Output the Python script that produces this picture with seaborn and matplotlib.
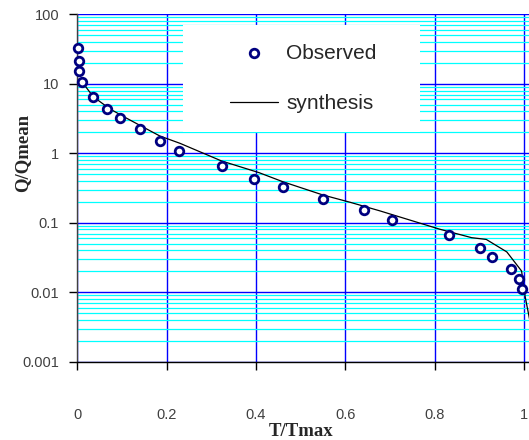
import matplotlib
matplotlib.use("Agg")
import matplotlib.pyplot as plt
import seaborn as sns
import pandas as pd
from matplotlib.ticker import LogLocator, FixedLocator, FixedFormatter, NullFormatter
from matplotlib.patches import Rectangle

# --- data ---
obs_t = [0.002, 0.003, 0.0045, 0.011, 0.0345, 0.0665, 0.095, 0.140, 0.185, 0.227,
         0.323, 0.396, 0.460, 0.550, 0.641, 0.704, 0.832, 0.901, 0.929, 0.971,
         0.989, 0.997]
obs_q = [33.1, 21.5, 15.1, 10.7, 6.4, 4.34, 3.25, 2.21, 1.52, 1.08,
         0.656, 0.431, 0.324, 0.218, 0.153, 0.110, 0.066, 0.0434, 0.0325, 0.0216,
         0.0154, 0.0110]

syn_t = [0.0076, 0.0358, 0.0732, 0.1106, 0.148, 0.185, 0.230, 0.323, 0.407, 0.460,
         0.550, 0.611, 0.678, 0.812, 0.883, 0.916, 0.962, 0.995, 1.003, 1.015]
syn_q = [11.3, 6.5, 4.34, 3.19, 2.37, 1.77, 1.39, 0.775, 0.526, 0.390,
         0.251, 0.197, 0.148, 0.0806, 0.0610, 0.0575, 0.038, 0.0202, 0.00865, 0.0035]

y_ticks = [0.001, 0.01, 0.1, 1, 10, 100]
y_labels = ["0.001", "0.01", "0.1", "1", "10", "100"]
x_ticks = [0, 0.2, 0.4, 0.6, 0.8, 1.0]
x_labels = ["0", "0.2", "0.4", "0.6", "0.8", "1"]

obs = pd.DataFrame({"t": obs_t, "q": obs_q})
syn = pd.DataFrame({"t": syn_t, "q": syn_q})

sns.set_style("white")
plt.rcParams["font.family"] = ["Liberation Sans", "DejaVu Sans"]

W, H = 529, 440
fig = plt.figure(figsize=(W / 100, H / 100), dpi=100)
# axes: x=0 at px 77.3, x=1 at px 523.8; y=100 at px 14.3, y=0.001 at px 361.7
XMAX = 1.05
left = 77.3 / W
right_px = 77.3 + XMAX * 446.5
ax = fig.add_axes([left, (H - 361.7) / H, (right_px - 77.3) / W, (361.7 - 14.3) / H])

sns.lineplot(data=syn, x="t", y="q", ax=ax, color="black", linewidth=0.9,
             sort=False, estimator=None, label="synthesis", zorder=4)
sns.scatterplot(data=obs, x="t", y="q", ax=ax, marker="o", s=38,
                facecolor="white", edgecolor="#000080", linewidth=2.0,
                label="Observed", zorder=5, clip_on=False)

ax.set_yscale("log")
ax.set_ylim(0.001, 100)
ax.set_xlim(0, XMAX)

ax.yaxis.set_major_locator(FixedLocator(y_ticks))
ax.yaxis.set_major_formatter(FixedFormatter(y_labels))
ax.yaxis.set_minor_locator(LogLocator(base=10, subs=[2, 3, 4, 5, 6, 7, 8, 9]))
ax.yaxis.set_minor_formatter(NullFormatter())
ax.xaxis.set_major_locator(FixedLocator(x_ticks))
ax.xaxis.set_major_formatter(FixedFormatter(x_labels))

ax.grid(True, which="major", axis="y", color="#0000ff", linewidth=1.0)
ax.grid(True, which="minor", axis="y", color="#00ffff", linewidth=0.9)
ax.grid(True, which="major", axis="x", color="#0000ff", linewidth=1.0)
ax.set_axisbelow(True)

ax.tick_params(axis="y", which="major", direction="out", length=6, width=1,
               color="black", labelsize=10.5, labelcolor="#404040", pad=7, left=True)
ax.tick_params(axis="y", which="minor", length=0)
ax.tick_params(axis="x", which="major", direction="out", length=6, width=1,
               color="black", labelsize=10.5, labelcolor="#404040", pad=27, bottom=True)

for s in ["top", "right"]:
    ax.spines[s].set_visible(False)
ax.spines["left"].set_color("#404040")
ax.spines["bottom"].set_color("black")
ax.spines["left"].set_linewidth(1.0)
ax.spines["bottom"].set_linewidth(1.0)

ax.set_xlabel("T/Tmax", family="Liberation Serif", fontweight="bold", fontsize=13.5)
ax.set_ylabel("Q/Qmean", family="Liberation Serif", fontweight="bold", fontsize=13.5)
ax.xaxis.set_label_coords((300.8 - 77.3) / (right_px - 77.3), -(431.7 - 361.7) / 347.4)
ax.yaxis.set_label_coords(-(77.3 - 23) / (right_px - 77.3), (361.7 - 153.3) / 347.4)
ax.xaxis.label.set_va("center")
ax.yaxis.label.set_va("center")

# white legend panel
aw = right_px - 77.3
ax.add_patch(Rectangle(((183 - 77.3) / aw, (361.7 - 132) / 347.4),
                       (420 - 183) / aw, (132 - 25) / 347.4,
                       transform=ax.transAxes, facecolor="white", edgecolor="none",
                       zorder=3))

handles, labels = ax.get_legend_handles_labels()
order = [labels.index("Observed"), labels.index("synthesis")]
leg = ax.legend([handles[i] for i in order], [labels[i] for i in order],
                loc="center", bbox_to_anchor=((303.5 - 77.3) / aw, (361.7 - 78.5) / 347.4),
                frameon=False, fontsize=15, handlelength=2.3, handletextpad=0.4,
                labelspacing=1.5, borderpad=0)
leg.set_zorder(6)
for t in leg.get_texts():
    t.set_color("#262626")

fig.savefig("out.png", dpi=100)
